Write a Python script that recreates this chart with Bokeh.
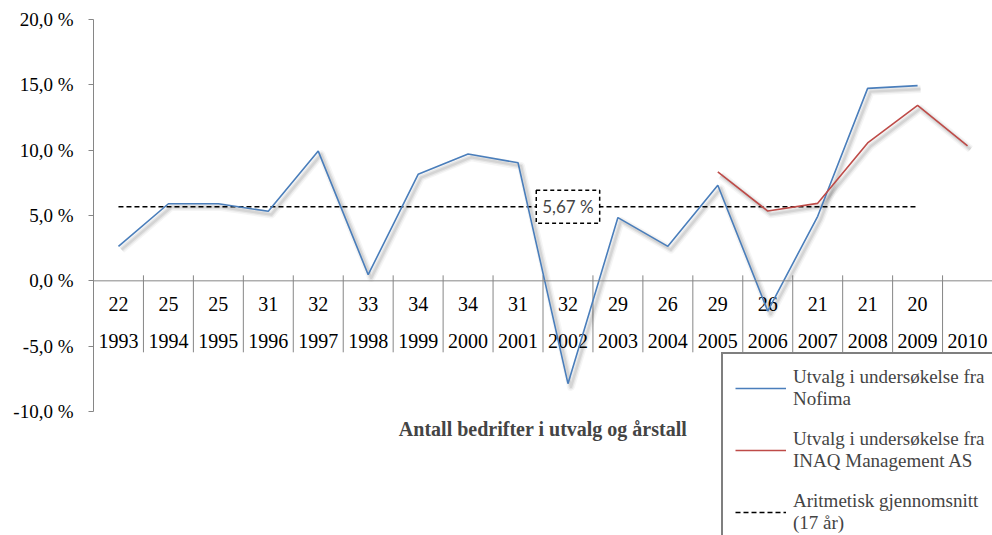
from bokeh.plotting import figure
from bokeh.models import Range1d, FixedTicker, Span, Label, Legend, LegendItem, ColumnDataSource
from bokeh.core.properties import value
from bokeh.embed import file_html
from bokeh.resources import INLINE

# ---- data ----
years = ["1993", "1994", "1995", "1996", "1997", "1998", "1999", "2000", "2001",
         "2002", "2003", "2004", "2005", "2006", "2007", "2008", "2009", "2010"]
counts = ["22", "25", "25", "31", "32", "33", "34", "34", "31",
          "32", "29", "26", "29", "26", "21", "21", "20", ""]
nofima_years = years[:17]
nofima = [2.64, 5.90, 5.90, 5.32, 9.93, 0.47, 8.15, 9.70, 9.04,
          -7.87, 4.84, 2.64, 7.31, -2.31, 4.94, 14.73, 14.94]
inaq_years = ["2005", "2006", "2007", "2008", "2009", "2010"]
inaq = [8.33, 5.34, 5.93, 10.55, 13.43, 10.32]
avg_years = years[:17]
average = 5.67
avg_label = "5,67 %"
y_ticks = [-10, -5, 0, 5, 10, 15, 20]
y_tick_labels = ["-10,0 %", "-5,0 %", "0,0 %", "5,0 %", "10,0 %", "15,0 %", "20,0 %"]
x_title = "Antall bedrifter i utvalg og årstall"
legend_labels = ["Utvalg i undersøkelse fra\nNofima",
                 "Utvalg i undersøkelse fra\nINAQ Management AS",
                 "Aritmetisk gjennomsnitt\n(17 år)"]

BLUE = "#4A7EBB"
RED = "#BE4B48"
GRAY = "#868686"
SERIF = "Liberation Serif"

pos = {y: i + 0.5 for i, y in enumerate(years)}

p = figure(width=992, height=535, output_backend="svg", toolbar_location=None,
           x_range=Range1d(0, 18.0), y_range=Range1d(-19.49, 21.454),
           x_axis_location=None, min_border_left=93, min_border_right=0,
           min_border_top=0, min_border_bottom=0)
p.outline_line_color = None
p.grid.visible = False
p.background_fill_color = "white"

ax = p.yaxis[0]
ax.ticker = FixedTicker(ticks=y_ticks)
ax.major_label_overrides = {t: l for t, l in zip(y_ticks, y_tick_labels)}
ax.bounds = (-10, 20)
ax.axis_line_color = GRAY
ax.major_tick_line_color = GRAY
ax.major_tick_out = 5
ax.major_tick_in = 0
ax.minor_tick_line_color = None
ax.major_label_text_font = SERIF
ax.major_label_text_font_size = "19px"
ax.major_label_text_color = "black"
ax.major_label_standoff = 15

# category axis at zero
p.add_layout(Span(location=0, dimension="width", line_color=GRAY, line_width=1))
sep = ColumnDataSource(dict(x=[float(i) for i in range(1, len(years))]))
p.segment(x0="x", y0=0.42, x1="x", y1=-5.47, source=sep, line_color=GRAY, line_width=1)

cat = ColumnDataSource(dict(x=[pos[y] for y in years], year=years, count=counts))
p.text(x="x", y=-1.8, text="count", source=cat, text_font=value(SERIF),
       text_font_size="20px", text_align="center", text_baseline="middle", text_color="black")
p.text(x="x", y=-4.63, text="year", source=cat, text_font=value(SERIF),
       text_font_size="20px", text_align="center", text_baseline="middle", text_color="black")

# series
nx = [pos[y] for y in nofima_years]
ix = [pos[y] for y in inaq_years]
ax_x = [pos[y] for y in avg_years]

def shadow(xs, ys):
    sx = [x + 0.06 for x in xs]
    sy = [y - 0.25 for y in ys]
    for w, a in [(8, 0.04), (5, 0.06), (2.5, 0.08)]:
        p.line(sx, sy, line_color="black", line_alpha=a, line_width=w, line_join="round")

shadow(nx, nofima)
shadow(ix, inaq)

r_avg = p.line([ax_x[0], ax_x[-1]], [average, average], line_color="black",
               line_width=1.5, line_dash="5 3")
r_nof = p.line(nx, nofima, line_color=BLUE, line_width=1.6)
r_inaq = p.line(ix, inaq, line_color=RED, line_width=1.6)

p.add_layout(Label(x=pos["2002"], y=average, text=avg_label, text_font="Lato",
                   text_font_size="17px", text_align="center", text_baseline="middle",
                   background_fill_color="white", border_line_color="black",
                   border_line_dash="4 3", border_line_width=1.5, padding=6))

p.add_layout(Label(x=9.0, y=-11.36, text=x_title, text_font=SERIF, text_font_size="20px",
                   text_font_style="bold", text_align="center", text_baseline="middle"))

legend = Legend(items=[LegendItem(label=legend_labels[0], renderers=[r_nof]),
                       LegendItem(label=legend_labels[1], renderers=[r_inaq]),
                       LegendItem(label=legend_labels[2], renderers=[r_avg])],
                location=(628, -13), label_text_font=SERIF, label_text_font_size="19px",
                label_text_line_height=1.15, glyph_width=51, glyph_height=14,
                label_standoff=7, padding=12, spacing=18, border_line_color="black",
                border_line_width=2, background_fill_color="white", background_fill_alpha=1,
                margin=0)
p.add_layout(legend, "center")

open("out.html", "w").write(file_html(p, INLINE))
